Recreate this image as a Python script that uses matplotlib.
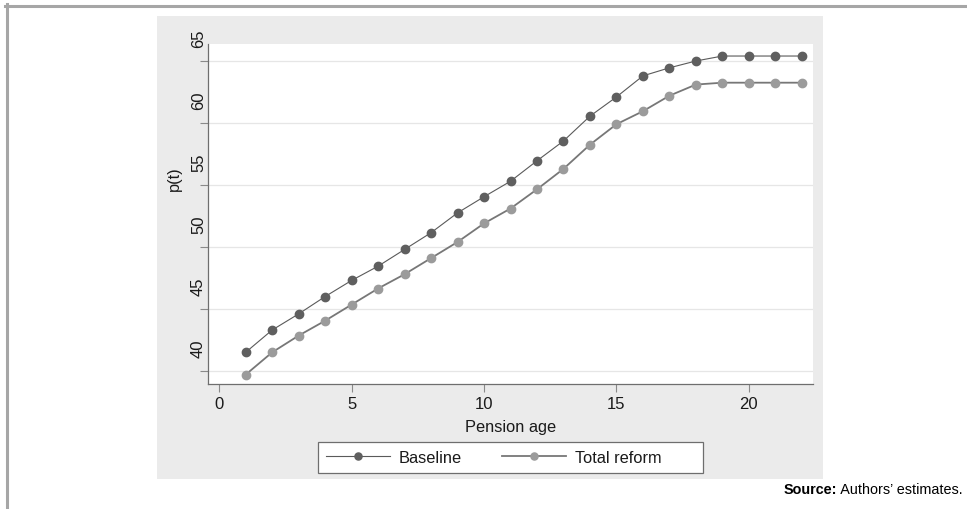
import matplotlib
matplotlib.use("Agg")
import matplotlib.pyplot as plt
from matplotlib.patches import Rectangle
from matplotlib.transforms import ScaledTranslation

# pension age steps
t = list(range(1, 23))
# p(t)
baseline = [41.5, 43.3, 44.6, 46.0, 47.3, 48.45, 49.8, 51.15, 52.75, 54.05, 55.3,
            56.95, 58.55, 60.55, 62.1, 63.8, 64.45, 65.0, 65.4, 65.4, 65.4, 65.4]
reform = [39.7, 41.5, 42.85, 44.05, 45.35, 46.65, 47.8, 49.1, 50.4, 51.9, 53.1,
          54.65, 56.3, 58.25, 59.9, 60.95, 62.2, 63.1, 63.25, 63.25, 63.25, 63.25]
xticks = [0, 5, 10, 15, 20]
yticks = [40, 45, 50, 55, 60, 65]

plt.rcParams['font.family'] = ['Liberation Sans', 'DejaVu Sans']

W, H = 967, 510
fig = plt.figure(figsize=(W / 100, H / 100), dpi=100)

# outer frame (top and left bars)
fig.add_artist(plt.Line2D([5 / W, 1], [1 - 6.5 / H, 1 - 6.5 / H], color='#a6a6a6', lw=2.2))
fig.add_artist(plt.Line2D([6.5 / W, 6.5 / W], [0, 1 - 5 / H], color='#a6a6a6', lw=2.2))

# grey chart panel
fig.add_artist(Rectangle((157 / W, 1 - 480 / H), 666 / W, 463 / H,
                         transform=fig.transFigure, facecolor='#ebebeb', edgecolor='none', zorder=0))

ax = fig.add_axes([208 / W, 1 - 385 / H, 605 / W, 340 / H])
ax.set_facecolor('white')

ax.plot(t, baseline, color='#5a5a5a', lw=0.8, marker='o', markersize=6,
        markerfacecolor='#5f5f5f', markeredgecolor='#5f5f5f', label='Baseline', zorder=3)
ax.plot(t, reform, color='#777777', lw=1.3, marker='o', markersize=6,
        markerfacecolor='#9b9b9b', markeredgecolor='#9b9b9b', label='Total reform', zorder=3)

ax.set_xlim(-0.42, 22.42)
ax.set_ylim(38.95, 66.37)
ax.set_xticks(xticks)
ax.set_yticks(yticks)
ax.grid(axis='y', color='#e6e6e6', lw=0.9)
ax.set_axisbelow(True)

for s in ['top', 'right']:
    ax.spines[s].set_visible(False)
for s in ['left', 'bottom']:
    ax.spines[s].set_color('#6e6e6e')
    ax.spines[s].set_linewidth(0.9)

ax.tick_params(axis='both', length=5.8, width=0.8, color='#8a8a8a', labelsize=12, labelcolor='#1a1a1a')
ax.tick_params(axis='x', pad=3)
ax.tick_params(axis='y', pad=-4.3)
for lab in ax.get_yticklabels():
    lab.set_rotation(90)
    lab.set_transform(lab.get_transform() + ScaledTranslation(0, 0.26, fig.dpi_scale_trans))

fig.text(174 / W, 1 - 179 / H, 'p(t)', rotation=90, ha='center', va='center', fontsize=11.8, color='#1a1a1a')
fig.text(510.5 / W, 1 - 428 / H, 'Pension age', ha='center', va='center', fontsize=11.8, color='#1a1a1a')

# legend box and entries
fig.add_artist(Rectangle((318 / W, 1 - 474 / H), 385 / W, 31 / H, transform=fig.transFigure,
                         facecolor='white', edgecolor='#6e6e6e', lw=0.9, zorder=1))
handles, labels = ax.get_legend_handles_labels()
leg = fig.legend(handles, labels, loc='center left', ncol=2,
                 bbox_to_anchor=(326 / W, 1 - 458.5 / H), bbox_transform=fig.transFigure,
                 borderaxespad=0, borderpad=0, fontsize=11.8, handlelength=3.9, handletextpad=0.55,
                 columnspacing=2.45, frameon=False, markerscale=0.85)
leg.set_zorder(2)
for txt in leg.get_texts():
    txt.set_color('#1a1a1a')

# source note
ys = 1 - 490 / H
src = fig.text(963 / W, ys, ' Authors\u2019 estimates.', ha='right', va='center', fontsize=10.4)
fig.canvas.draw()
bb = src.get_window_extent()
fig.text(bb.x0 / fig.bbox.width, ys, 'Source:', ha='right', va='center', fontsize=10.4, weight='bold')

fig.savefig('out.png', dpi=100)
